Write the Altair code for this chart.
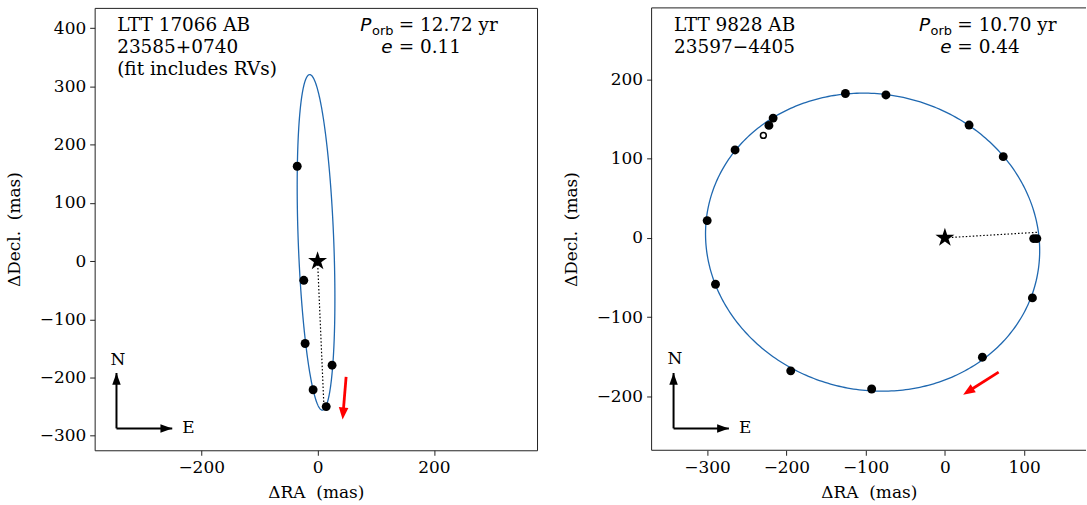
import altair as alt
import numpy as np
import pandas as pd

SERIF = "DejaVu Serif"
SANS = "DejaVu Sans"
BLUE = "#1f68b0"
FRAME = "#222222"

# ---------------- LTT 17066 AB (left panel) ----------------
l_ra = [-35.0, -23.7, -21.4, 24.9, -7.7, 14.8]
l_dec = [163.0, -33.0, -141.6, -178.8, -221.0, -250.0]
# orbit ellipse: centre, semi-axes, orientation of major axis (deg)
l_orbit = {"cx": -2.65, "cy": 32.2, "a": 288.4, "b": 30.5, "pa": 92.18}
l_peri = [11.0, -252.0]
l_motion = [49.0, -199.0, 43.0, -272.0]
l_name = ["LTT 17066 AB", "23585+0740", "(fit includes RVs)"]
l_porb = "= 12.72 yr"
l_ecc = "= 0.11"

# ---------------- LTT 9828 AB (right panel) ----------------
r_ra = [-125.5, -74.4, -216.7, -222.0, -264.7, -299.9, 30.5, 73.6, 112.0, 116.0,
        110.4, 47.3, -289.4, -194.5, -92.4]
r_dec = [182.0, 180.2, 151.0, 141.8, 110.8, 21.7, 142.2, 102.4, -1.0, -1.0,
         -75.8, -150.6, -58.6, -167.8, -190.7]
r_open_ra = [-229.0]
r_open_dec = [129.2]
r_orbit = {"cx": -91.2, "cy": -5.5, "a": 212.0, "b": 186.6, "pa": -13.1}
r_peri = [117.5, 7.0]
r_motion = [67.8, -169.4, 23.0, -197.9]
r_name = ["LTT 9828 AB", "23597\u22124405"]
r_porb = "= 10.70 yr"
r_ecc = "= 0.44"

HEAD = "M0,0L0.4,1L-0.4,1Z"
CHEAD = "M0,0L0.36,1L-0.36,1Z"
STAR = ("M0,-1L-0.2245,-0.309L-0.951,-0.309L-0.3633,0.118L-0.588,0.809L0,0.382"
        "L0.588,0.809L0.3633,0.118L0.951,-0.309L0.2245,-0.309Z")


def ellipse_df(o):
    t = np.linspace(0, 2 * np.pi, 361)
    phi = np.radians(o["pa"])
    x = o["cx"] + o["a"] * np.cos(t) * np.cos(phi) - o["b"] * np.sin(t) * np.sin(phi)
    y = o["cy"] + o["a"] * np.cos(t) * np.sin(phi) + o["b"] * np.sin(t) * np.cos(phi)
    return pd.DataFrame({"x": x, "y": y, "i": np.arange(len(t))})


def panel(p):
    xs = alt.Scale(domain=p["xdom"], nice=False, zero=False)
    ys = alt.Scale(domain=p["ydom"], nice=False, zero=False)
    xa = alt.Axis(values=p["xticks"], title="\u0394RA\u00a0 (mas)")
    ya = alt.Axis(values=p["yticks"], title="\u0394Decl.\u00a0 (mas)")

    def X(f="x"):
        return alt.X(f, type="quantitative", scale=xs, axis=xa)

    def Y(f="y"):
        return alt.Y(f, type="quantitative", scale=ys, axis=ya)

    layers = []
    layers.append(alt.Chart(ellipse_df(p["orbit"])).mark_line(
        color=BLUE, strokeWidth=1.3).encode(X(), Y(), order="i:Q"))
    peri = pd.DataFrame({"x": [0.0], "y": [0.0], "x2": [p["peri"][0]], "y2": [p["peri"][1]]})
    layers.append(alt.Chart(peri).mark_rule(
        color="black", strokeWidth=1.2, strokeDash=[1.5, 2]).encode(
        X(), Y(), x2="x2:Q", y2="y2:Q"))
    pts = pd.DataFrame({"x": p["ra"], "y": p["dec"]})
    layers.append(alt.Chart(pts).mark_point(
        shape="circle", filled=True, color="black", size=80, opacity=1).encode(X(), Y()))
    if p.get("open_ra"):
        op = pd.DataFrame({"x": p["open_ra"], "y": p["open_dec"]})
        layers.append(alt.Chart(op).mark_point(
            shape="circle", filled=False, color="black", size=34, strokeWidth=1.5,
            opacity=1).encode(X(), Y()))
    star = pd.DataFrame({"x": [0.0], "y": [0.0]})
    layers.append(alt.Chart(star).mark_point(
        shape=STAR, filled=True, color="black", size=400, opacity=1).encode(X(), Y()))

    # red motion arrow
    m = p["motion"]
    mv = pd.DataFrame({"x": [m[0]], "y": [m[1]], "x2": [p["motion_end"][0]], "y2": [p["motion_end"][1]]})
    layers.append(alt.Chart(mv).mark_rule(color="red", strokeWidth=2.8).encode(
        X(), Y(), x2="x2:Q", y2="y2:Q"))
    mh = pd.DataFrame({"x": [m[2]], "y": [m[3]]})
    layers.append(alt.Chart(mh).mark_point(
        shape=HEAD, filled=True, color="red", size=576, angle=p["motion_angle"],
        strokeWidth=0, opacity=1).encode(X(), Y()))

    # compass
    c = p["compass"]
    cl = pd.DataFrame({"x": [c[0], c[0]], "y": [c[1], c[1]],
                       "x2": [c[0], c[3]], "y2": [c[2], c[1]]})
    layers.append(alt.Chart(cl).mark_rule(color="black", strokeWidth=2).encode(
        X(), Y(), x2="x2:Q", y2="y2:Q"))
    layers.append(alt.Chart(pd.DataFrame({"x": [c[0]], "y": [c[2]]})).mark_point(
        shape=CHEAD, filled=True, color="black", size=560, angle=0,
        strokeWidth=0, opacity=1).encode(X(), Y()))
    layers.append(alt.Chart(pd.DataFrame({"x": [c[3]], "y": [c[1]]})).mark_point(
        shape=CHEAD, filled=True, color="black", size=560, angle=90,
        strokeWidth=0, opacity=1).encode(X(), Y()))
    nl = pd.DataFrame({"x": [p["nlab"][0]], "y": [p["nlab"][1]], "t": ["N"]})
    layers.append(alt.Chart(nl).mark_text(
        align="center", baseline="alphabetic", font=SERIF, fontSize=17, color="black").encode(
        X(), Y(), text="t:N"))
    el = pd.DataFrame({"x": [p["elab"][0]], "y": [p["elab"][1]], "t": ["E"]})
    layers.append(alt.Chart(el).mark_text(
        align="left", baseline="alphabetic", font=SERIF, fontSize=17, color="black").encode(
        X(), Y(), text="t:N"))

    # annotations
    tx = pd.DataFrame({"x": p["txt_x"], "y": p["txt_y"], "t": p["txt"]})
    layers.append(alt.Chart(tx).mark_text(
        align="left", baseline="alphabetic", font=SERIF, fontSize=18.5, color="black").encode(
        X(), Y(), text="t:N"))
    it = pd.DataFrame({"x": p["ital_x"], "y": p["ital_y"], "t": ["P", "e"]})
    layers.append(alt.Chart(it).mark_text(
        align="left", baseline="alphabetic", font=SANS, fontStyle="italic", fontSize=18.5,
        color="black").encode(X(), Y(), text="t:N"))
    sb = pd.DataFrame({"x": [p["sub"][0]], "y": [p["sub"][1]], "t": ["orb"]})
    layers.append(alt.Chart(sb).mark_text(
        align="left", baseline="alphabetic", font=SANS, fontSize=13, color="black").encode(
        X(), Y(), text="t:N"))

    if not p["full_frame"]:
        x0, x1 = p["xdom"]
        y0, y1 = p["ydom"]
        fr = pd.DataFrame({"x": [x0, x0, x0], "y": [y1, y0, y0],
                           "x2": [x1, x1, x0], "y2": [y1, y0, y1]})
        layers.append(alt.Chart(fr).mark_rule(color=FRAME, strokeWidth=1).encode(
            X(), Y(), x2="x2:Q", y2="y2:Q"))

    ch = alt.layer(*layers).properties(width=p["w"], height=p["h"])
    if not p["full_frame"]:
        ch = ch.properties(view=alt.ViewBackground(stroke="transparent"))
    return ch


left = panel({
    "xdom": [-383, 377], "ydom": [-325, 435],
    "xticks": [-200, 0, 200], "yticks": [-300, -200, -100, 0, 100, 200, 300, 400],
    "w": 444, "h": 444,
    "ra": l_ra, "dec": l_dec, "orbit": l_orbit, "peri": l_peri,
    "motion": l_motion, "motion_end": [43.8, -262.0], "motion_angle": 184.7,
    "compass": [-345.5, -287.4, -192.2, -249.7],
    "nlab": [-343.1, -179.0], "elab": [-232.5, -294.9],
    "txt": l_name + [l_porb, l_ecc],
    "txt_x": [-344.3, -344.3, -344.3, 139.4, 139.4],
    "txt_y": [395.6, 357.3, 320.3, 395.6, 357.3],
    "ital_x": [73.4, 109.3], "ital_y": [395.6, 357.3],
    "sub": [93.6, 388.8],
    "full_frame": True,
})

right = panel({
    "xdom": [-370, 178], "ydom": [-268, 290],
    "xticks": [-300, -200, -100, 0, 100], "yticks": [-200, -100, 0, 100, 200],
    "w": 436, "h": 444,
    "ra": r_ra, "dec": r_dec, "open_ra": r_open_ra, "open_dec": r_open_dec,
    "orbit": r_orbit, "peri": r_peri,
    "motion": r_motion, "motion_end": [29.7, -193.6], "motion_angle": 237.4,
    "compass": [-342.3, -240.4, -170.5, -272.5],
    "nlab": [-340.7, -159.6], "elab": [-259.9, -245.9],
    "txt": r_name + [r_porb, r_ecc],
    "txt_x": [-341.6, -341.6, 15.7, 15.7],
    "txt_y": [261.1, 232.9, 261.1, 232.9],
    "ital_x": [-32.8, -6.0], "ital_y": [261.1, 232.9],
    "sub": [-18.1, 256.1],
    "full_frame": False,
})

chart = alt.hconcat(
    left, right, spacing=23,
    padding={"left": 4, "top": 6, "right": 0, "bottom": 4},
).configure(background="white").configure_view(
    stroke=FRAME, strokeWidth=1
).configure_axis(
    labelFont=SERIF, labelFontSize=17, titleFont=SERIF, titleFontSize=17,
    titleFontWeight="normal", labelColor="black", titleColor="black",
    tickColor=FRAME, tickSize=5, tickWidth=1, domain=False, grid=False,
    labelPadding=4, titlePadding=9,
).configure_axisY(titlePadding=16)

chart.save("out.html", embed_options={"renderer": "svg", "actions": False})
